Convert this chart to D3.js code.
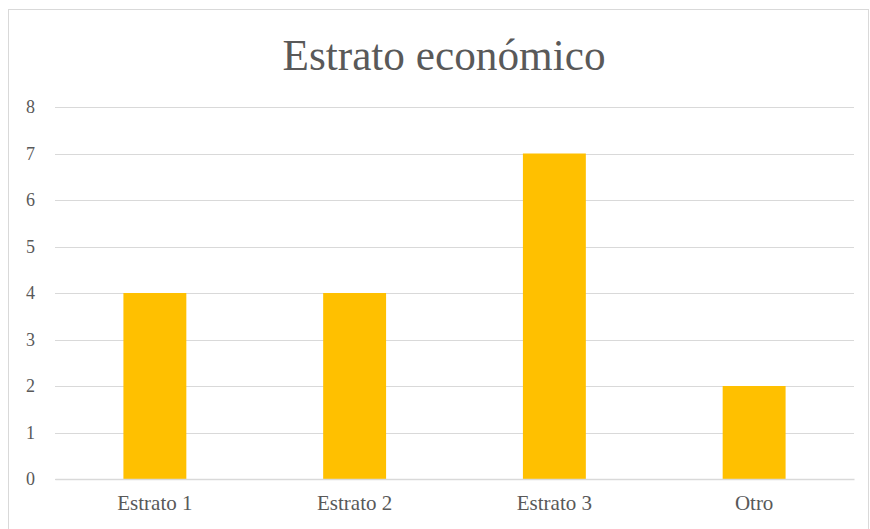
<!DOCTYPE html>
<html>
<head>
<meta charset="utf-8">
<script src="https://cdn.jsdelivr.net/npm/d3@7"></script>
<style>
  body { margin: 0; background: #fff; }
</style>
</head>
<body>
<div id="chart"></div>
<script>
const categories = ["Estrato 1", "Estrato 2", "Estrato 3", "Otro"]
const values = [4, 4, 7, 2]
const yTicks = [0, 1, 2, 3, 4, 5, 6, 7, 8]
const title = "Estrato económico"

const width = 870
const height = 529
const margin = { top: 107, bottom: 50, left: 55, right: 16 }
const font = "'Liberation Serif', 'Times New Roman', serif"

const svg = d3.select("#chart")
  .append("svg")
  .attr("width", width)
  .attr("height", height)

// Borde del gráfico
svg.append("rect")
  .attr("x", 8.5).attr("y", 9.5)
  .attr("width", width - 10).attr("height", height - 8)
  .attr("fill", "#fff")
  .attr("stroke", "#d9d9d9")

svg.append("text")
  .attr("x", 444)
  .attr("y", 70)
  .attr("text-anchor", "middle")
  .attr("font-family", font)
  .attr("font-size", 45)
  .attr("fill", "#595959")
  .attr("textLength", 323)
  .attr("lengthAdjust", "spacingAndGlyphs")
  .text(title)

const innerW = width - margin.left - margin.right
const innerH = height - margin.top - margin.bottom

const g = svg.append("g")
  .attr("transform", `translate(${margin.left}, ${margin.top})`)

// Escalas
const x = d3.scaleBand().domain(categories).range([0, innerW])
  .paddingInner(0.685).paddingOuter(0.3425)
const y = d3.scaleLinear().domain([0, 8]).range([innerH, 0])

// Rejilla
g.append("g")
  .selectAll("line")
  .data(yTicks)
  .join("line")
  .attr("x1", 0).attr("x2", innerW)
  .attr("y1", d => Math.round(y(d)) + 0.5).attr("y2", d => Math.round(y(d)) + 0.5)
  .attr("stroke", "#d9d9d9")
  .attr("stroke-width", 1)

// Eje Y
const yAxis = d3.axisLeft(y).tickValues(yTicks).tickSize(0).tickPadding(20)
g.append("g").call(yAxis)
  .attr("font-family", font)
  .attr("font-size", 18)
  .call(a => a.select(".domain").remove())
  .selectAll("text")
  .attr("fill", "#595959")

// Barras
g.append("g")
  .selectAll("rect")
  .data(values)
  .join("rect")
  .attr("x", (d, i) => x(categories[i]))
  .attr("y", d => y(d))
  .attr("width", x.bandwidth())
  .attr("height", d => innerH - y(d))
  .attr("fill", "#ffc000")

// Eje X
const xAxis = d3.axisBottom(x).tickSize(0).tickPadding(16)
g.append("g")
  .attr("transform", `translate(0, ${innerH})`)
  .call(xAxis)
  .attr("font-family", font)
  .attr("font-size", 21)
  .call(a => a.select(".domain").attr("stroke", "#d9d9d9").attr("stroke-width", 1.5))
  .selectAll("text")
  .attr("fill", "#595959")
</script>
</body>
</html>
